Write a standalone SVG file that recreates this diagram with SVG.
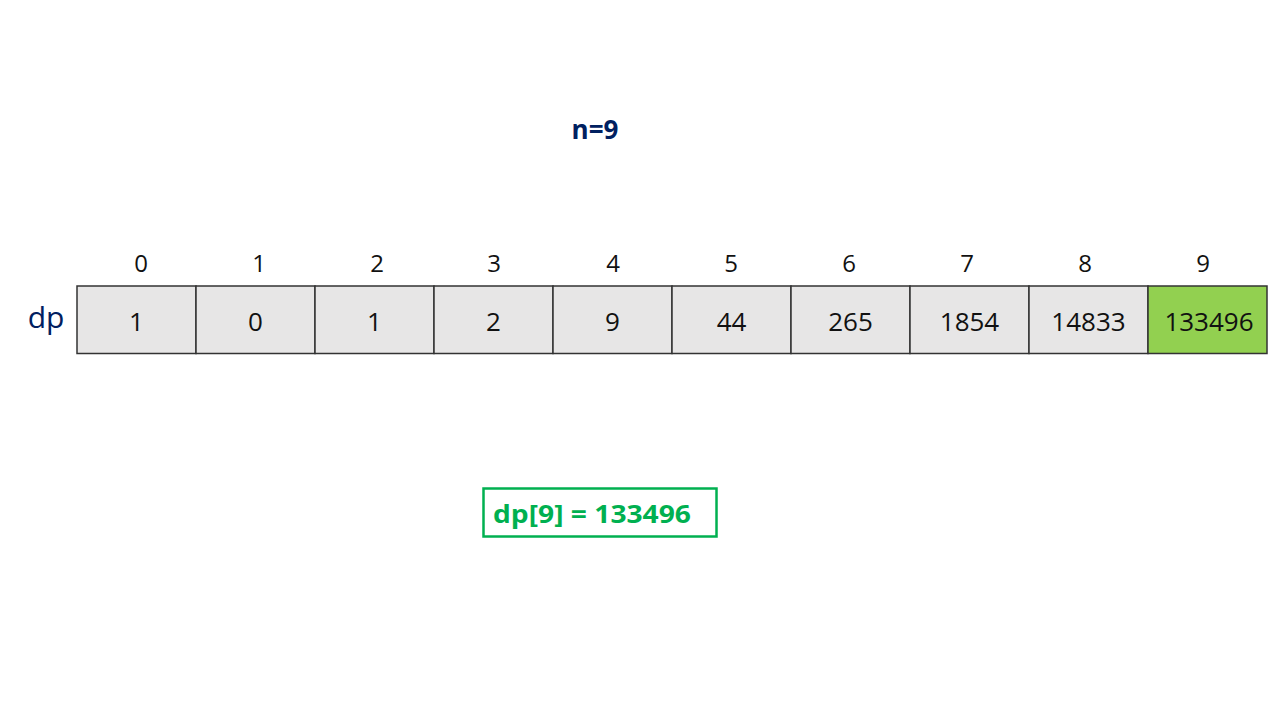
<svg xmlns="http://www.w3.org/2000/svg" width="1280" height="720" viewBox="0 0 1280 720">
<style>
.cell{fill:#E7E6E6;stroke:#333333;stroke-width:1.5}
.hl{fill:#92D050}
.val{font-family:"Open Sans","Liberation Sans",sans-serif;font-size:26px;fill:#111111;text-anchor:middle}
.idx{font-family:"Open Sans","Liberation Sans",sans-serif;font-size:24px;fill:#111111;text-anchor:middle}
.navy{fill:#002060}
</style>
<rect width="1280" height="720" fill="#FFFFFF"/>
<g id="title"><text x="595" y="139" font-family="Open Sans, Liberation Sans, sans-serif" font-size="26" font-weight="bold" class="navy" text-anchor="middle">n=9</text></g>
<g id="label"><text x="46" y="328" font-family="Open Sans, Liberation Sans, sans-serif" font-size="30" class="navy" text-anchor="middle">dp</text></g>
<g id="indices">
<text class="idx" x="141" y="272">0</text>
<text class="idx" x="259" y="272">1</text>
<text class="idx" x="377" y="272">2</text>
<text class="idx" x="494" y="272">3</text>
<text class="idx" x="613" y="272">4</text>
<text class="idx" x="731" y="272">5</text>
<text class="idx" x="849" y="272">6</text>
<text class="idx" x="967" y="272">7</text>
<text class="idx" x="1085" y="272">8</text>
<text class="idx" x="1203" y="272">9</text>
</g>
<g id="cell0"><rect class="cell" x="77" y="286" width="119" height="67.5"/><text class="val" x="136.5" y="331">1</text></g>
<g id="cell1"><rect class="cell" x="196" y="286" width="119" height="67.5"/><text class="val" x="255.5" y="331">0</text></g>
<g id="cell2"><rect class="cell" x="315" y="286" width="119" height="67.5"/><text class="val" x="374.5" y="331">1</text></g>
<g id="cell3"><rect class="cell" x="434" y="286" width="119" height="67.5"/><text class="val" x="493.5" y="331">2</text></g>
<g id="cell4"><rect class="cell" x="553" y="286" width="119" height="67.5"/><text class="val" x="612.5" y="331">9</text></g>
<g id="cell5"><rect class="cell" x="672" y="286" width="119" height="67.5"/><text class="val" x="731.5" y="331">44</text></g>
<g id="cell6"><rect class="cell" x="791" y="286" width="119" height="67.5"/><text class="val" x="850.5" y="331">265</text></g>
<g id="cell7"><rect class="cell" x="910" y="286" width="119" height="67.5"/><text class="val" x="969.5" y="331">1854</text></g>
<g id="cell8"><rect class="cell" x="1029" y="286" width="119" height="67.5"/><text class="val" x="1088.5" y="331">14833</text></g>
<g id="cell9"><rect class="cell hl" x="1148" y="286" width="119" height="67.5"/><text class="val" x="1209" y="331">133496</text></g>
<g id="result">
<rect x="483.5" y="488.5" width="233" height="48" fill="#FFFFFF" stroke="#00B050" stroke-width="2.5"/>
<text x="493" y="523" font-family="Open Sans, Liberation Sans, sans-serif" font-size="25" font-weight="bold" fill="#00B050" textLength="198" lengthAdjust="spacingAndGlyphs">dp[9] = 133496</text>
</g>
<g id="connectors"/>
</svg>
